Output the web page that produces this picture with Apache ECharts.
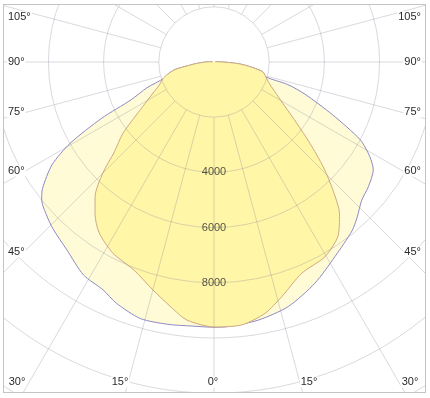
<!DOCTYPE html>
<html>
<head>
<meta charset="utf-8">
<script src="https://cdn.jsdelivr.net/npm/echarts@6/dist/echarts.min.js"></script>
<style>
html, body { margin: 0; padding: 0; background: #fff; }
.kuang {
  position: absolute; left: 3px; top: 4px; width: 423px; height: 389px;
  border: 1px solid #c4c4c4; box-sizing: border-box; overflow: hidden;
}
#chart { width: 100%; height: 100%; }
</style>
</head>
<body>
<div class="kuang"><div id="chart"></div></div>
<script>
// 配光曲线数据 [角度, 光强cd]
const outerLeft = [
  [100, 50], [92, 200], [88, 400], [85, 650], [82, 950], [79, 1450], [75, 1750],
  [72, 1900], [69, 2600], [65.5, 3300], [63.4, 4550], [60.5, 6000], [57.6, 6950],
  [53.6, 7720], [51.3, 8000], [48, 8200], [44, 8400], [38, 8650], [31.5, 9050],
  [26, 9180], [22, 9430], [16, 9670], [10, 9650], [4.5, 9600], [0, 9610]
];
const outerRight = [
  [3, 9600], [9.7, 9490], [16.9, 9260], [24.5, 8810], [31.9, 8300], [39.3, 7900],
  [42.7, 7650], [46.9, 7330], [51.1, 7190], [55.9, 6970], [58.7, 6610], [62, 6000],
  [66, 4700], [70.5, 3500], [73, 2800], [74, 1950], [78.5, 1810], [82, 1400],
  [86, 900], [92, 200], [100, 50]
];
const innerLeft = [
  [100, 50], [92, 200], [88, 400], [85, 650], [82, 950], [79, 1450], [75, 1750],
  [72, 1950], [67, 2160], [63, 2480], [58, 3040], [52, 4180], [48, 4850], [45, 5700],
  [41.5, 6500], [38, 7000], [34, 7450], [28, 7830], [21, 8080], [15, 8550],
  [10, 9010], [6, 9400], [0, 9600]
];
const innerRight = [
  [6, 9580], [11.5, 9290], [16.1, 8850], [22.5, 8290], [29.7, 8120], [35.4, 7750],
  [39.5, 7150], [43, 6300], [46.2, 5480], [49.7, 4560], [53.4, 3750], [60, 2800],
  [65.4, 2350], [69, 2140], [74, 1950], [78.5, 1810], [82, 1400], [86, 900],
  [92, 200], [100, 50]
];
const ringValues = [4000, 6000, 8000];
const sideLabels = ['105°', '90°', '75°', '60°', '45°'];
const bottomLabels = ['30°', '15°', '0°', '15°', '30°'];

// 布局
const k = 0.0276; // px / cd
const center = [210, 57];
const sideY = [12, 57, 107, 166, 247];
const bottomX = [13, 116, 209, 305, 406];
const bottomY = 377;

function toPolar(left, right) {
  let arr = left.map(p => [p[1], p[0]]);
  right.forEach(p => arr.push([p[1], 360 - p[0]]));
  return arr;
}

function labelText(t, x, y, align) {
  return {
    type: 'text', x: x, y: y, z: 20,
    style: {
      text: t, fill: '#2a2a2a', font: '11px Arial', align: align, verticalAlign: 'middle',
      textAlign: align, textVerticalAlign: 'middle', backgroundColor: '#fff', padding: [0, 1]
    }
  };
}

let graphics = [];
sideLabels.forEach((t, i) => {
  graphics.push(labelText(t, 3, sideY[i], 'left'));
  graphics.push(labelText(t, 418, sideY[i], 'right'));
});
bottomLabels.forEach((t, i) => {
  graphics.push(labelText(t, bottomX[i], bottomY, 'center'));
});

const gridLine = { lineStyle: { color: 'rgba(130,130,150,0.3)', width: 1 } };

let myChart = echarts.init(document.getElementById('chart'));
let option = {
  animation: false,
  polar: [
    { center: center, radius: [2000 * k, 14000 * k] },
    { center: center, radius: [0, 14000 * k] }
  ],
  angleAxis: [
    {
      polarIndex: 0, type: 'value', min: 0, max: 360, interval: 15, startAngle: 270,
      axisLine: { show: false }, axisTick: { show: false }, axisLabel: { show: false },
      splitLine: gridLine, z: 5
    },
    { polarIndex: 1, type: 'value', min: 0, max: 360, startAngle: 270, show: false }
  ],
  radiusAxis: [
    {
      polarIndex: 0, type: 'value', min: 2000, max: 14000, interval: 2000,
      axisLine: { show: false }, axisTick: { show: false }, axisLabel: { show: false },
      splitLine: gridLine, z: 5
    },
    { polarIndex: 1, type: 'value', min: 0, max: 14000, show: false }
  ],
  graphic: graphics,
  series: [
    {
      type: 'line', coordinateSystem: 'polar', polarIndex: 1,
      data: toPolar(outerLeft, outerRight), symbol: 'none', smooth: 0.25,
      lineStyle: { color: '#8f88c4', width: 1 },
      areaStyle: { color: '#FFFBD6', opacity: 1 }, z: 1
    },
    {
      type: 'line', coordinateSystem: 'polar', polarIndex: 1,
      data: toPolar(innerLeft, innerRight), symbol: 'none', smooth: 0.25,
      lineStyle: { color: '#cfa982', width: 1 },
      areaStyle: { color: '#FFF6A8', opacity: 1 }, z: 2
    },
    {
      type: 'scatter', coordinateSystem: 'polar', polarIndex: 1,
      data: ringValues.map(v => [v, 0]), symbolSize: 1,
      itemStyle: { color: 'transparent' },
      label: { show: true, position: 'inside', formatter: p => p.value[0], color: '#2a2a2a', fontSize: 11, fontFamily: 'Arial' },
      z: 10
    }
  ]
};
myChart.setOption(option);
</script>
</body>
</html>
